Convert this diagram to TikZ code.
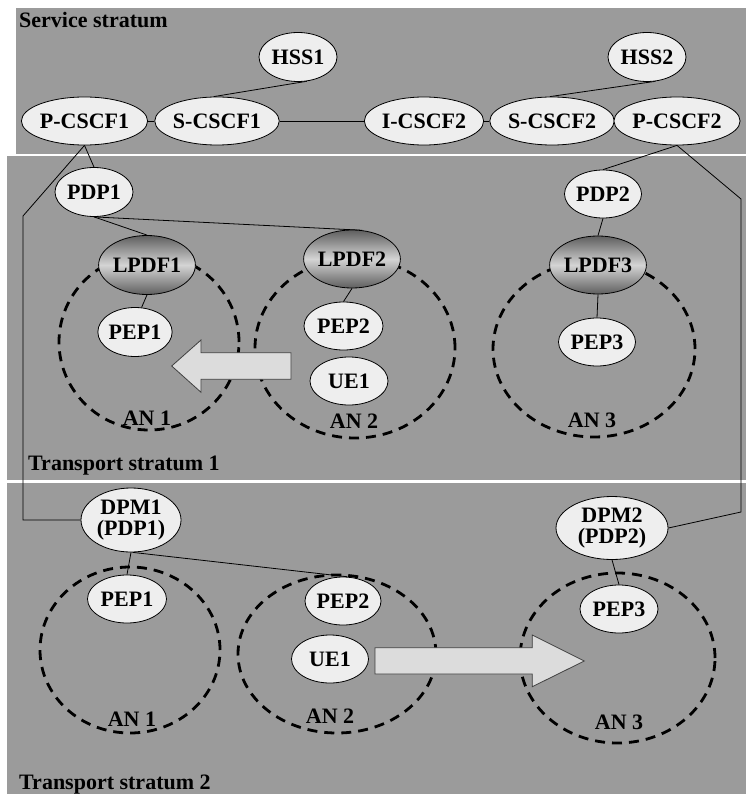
\documentclass[tikz,border=0pt]{standalone}
\usepackage{fontspec}
\setmainfont{Liberation Serif}
\usetikzlibrary{shapes.geometric}
\definecolor{bggray}{RGB}{155,155,155}
\definecolor{nodefill}{RGB}{238,238,238}
\definecolor{arrowfill}{RGB}{220,220,220}
\definecolor{lpdfdark}{RGB}{95,95,95}
\definecolor{lpdflight}{RGB}{212,212,212}
\pgfdeclarelayer{bg}
\pgfdeclarelayer{mid}
\pgfsetlayers{bg,mid,main}
\tikzset{
  txt/.style={font=\fontsize{22}{18}\selectfont\bfseries},
  ent/.style={ellipse, draw=black, line width=0.8pt, fill=nodefill, inner sep=0pt, txt, align=center},
  lpdf/.style={ent, top color=lpdfdark, bottom color=lpdfdark, middle color=lpdflight},
  twoline/.style={font=\fontsize{22}{21.5}\selectfont\bfseries},
  link/.style={line width=0.8pt, draw=black},
  anbound/.style={ellipse, draw=black, line width=2.8pt, dash pattern=on 10pt off 7pt, inner sep=0pt},
  anlabel/.style={txt, inner sep=0pt},
  stratum/.style={txt, inner sep=0pt, anchor=base west},
  blockarrow/.style={fill=arrowfill, draw=black!75, line width=0.8pt},
  band/.style={fill=bggray, draw=none},
}
\begin{document}
\begin{tikzpicture}[x=1pt,y=-1pt]
\useasboundingbox (0,0) rectangle (746,794);
\begin{pgfonlayer}{bg}
  \fill[white] (0,0) rectangle (746,794);
  \path[band] (16,8) rectangle (746,154.5);
  \path[band] (7,156.5) rectangle (746,480);
  \path[band] (7,483) rectangle (746,794);
\end{pgfonlayer}

% stratum labels
\node[stratum] (lblss) at (19,28) {Service stratum};
\node[stratum] (lblt1) at (28,470) {Transport stratum 1};
\node[stratum] (lblt2) at (19,789) {Transport stratum 2};

% service stratum
\node[ent, minimum width=78pt, minimum height=49pt] (hss1) at (298,57) {HSS1};
\node[ent, minimum width=78pt, minimum height=49pt] (hss2) at (647,57) {HSS2};
\node[ent, minimum width=115pt, minimum height=48pt] (pcscf1) at (84.5,121) {P-CSCF1};
\node[ent, minimum width=115pt, minimum height=48pt] (scscf1) at (217,121) {S-CSCF1};
\node[ent, minimum width=104pt, minimum height=48pt] (icscf2) at (424,121) {I-CSCF2};
\node[ent, minimum width=108pt, minimum height=48pt] (scscf2) at (552,121) {S-CSCF2};
\node[ent, minimum width=102pt, minimum height=48pt] (pcscf2) at (677,121) {P-CSCF2};

% transport stratum 1
\node[ent, minimum width=78pt, minimum height=49pt] (pdp1) at (94,192) {PDP1};
\node[lpdf, minimum width=92pt, minimum height=59pt] (lpdf1) at (147,265) {LPDF1};
\node[ent, minimum width=68pt, minimum height=49pt] (pep1a) at (135,332) {PEP1};
\node[lpdf, minimum width=96pt, minimum height=58pt] (lpdf2) at (352,259) {LPDF2};
\node[ent, minimum width=79pt, minimum height=48pt] (pep2a) at (343.5,326) {PEP2};
\node[ent, minimum width=78pt, minimum height=48pt] (ue1a) at (349,381) {UE1};
\node[ent, minimum width=77pt, minimum height=48pt] (pdp2) at (603,194) {PDP2};
\node[lpdf, minimum width=95pt, minimum height=58pt] (lpdf3) at (598,265) {LPDF3};
\node[ent, minimum width=77pt, minimum height=48pt] (pep3a) at (597,342) {PEP3};

% transport stratum 2
\node[ent, twoline, minimum width=100pt, minimum height=64pt] (dpm1) at (131,520) {DPM1\\(PDP1)};
\node[ent, minimum width=79pt, minimum height=48pt] (pep1b) at (127,599) {PEP1};
\node[ent, minimum width=76pt, minimum height=48pt] (pep2b) at (343,601) {PEP2};
\node[ent, minimum width=77pt, minimum height=48pt] (ue1b) at (330,659) {UE1};
\node[ent, twoline, minimum width=112pt, minimum height=63pt] (dpm2) at (612,528) {DPM2\\(PDP2)};
\node[ent, minimum width=78pt, minimum height=48pt] (pep3b) at (619,609) {PEP3};

% AN labels
\node[anlabel] (an1alab) at (147,418) {AN 1};
\node[anlabel] (an2alab) at (354,421) {AN 2};
\node[anlabel] (an3alab) at (592,420) {AN 3};
\node[anlabel] (an1blab) at (132,719) {AN 1};
\node[anlabel] (an2blab) at (330,716) {AN 2};
\node[anlabel] (an3blab) at (619,722) {AN 3};

\begin{pgfonlayer}{mid}
  % access network areas
  \node[anbound, minimum width=180pt, minimum height=176pt] (an1a) at (149,342) {};
  \node[anbound, minimum width=200pt, minimum height=180pt] (an2a) at (355,348) {};
  \node[anbound, minimum width=202pt, minimum height=176pt] (an3a) at (594,349) {};
  \node[anbound, minimum width=180pt, minimum height=166pt] (an1b) at (130,650) {};
  \node[anbound, minimum width=198pt, minimum height=158pt] (an2b) at (337,654) {};
  \node[anbound, minimum width=195pt, minimum height=170pt] (an3b) at (617.5,658) {};

  % connectors
  \coordinate (lcorner1) at (23,216);
  \coordinate (lcorner2) at (23,520);
  \coordinate (rcorner1) at (741,199);
  \coordinate (rcorner2) at (741,512);
  \draw[link] (hss1.-70) -- (scscf1.98);
  \draw[link] (hss2.-71) -- (scscf2.95);
  \draw[link] (pcscf1) -- (scscf1);
  \draw[link] (scscf1) -- (icscf2);
  \draw[link] (icscf2) -- (scscf2);
  \draw[link] (scscf2) -- (pcscf2);
  \draw[link] (pcscf1.south) -- (pdp1.north);
  \draw[link] (pcscf1.south) -- (lcorner1) -- (lcorner2) -- (dpm1.west);
  \draw[link] (pdp1.south) -- (lpdf1.north);
  \draw[link] (pdp1.south) -- (lpdf2.70);
  \draw[link] (lpdf1.south) -- (pep1a.75);
  \draw[link] (lpdf2.south) -- (pep2a.north);
  \draw[link] (pcscf2.south) -- (pdp2.north);
  \draw[link] (pcscf2.south) -- (rcorner1) -- (rcorner2) -- (dpm2.east);
  \draw[link] (pdp2.south) -- (lpdf3.north);
  \draw[link] (lpdf3.south) -- (pep3a.north);
  \draw[link] (dpm1.south) -- (pep1b.north);
  \draw[link] (dpm1.-87) -- (pep2b.80);
  \draw[link] (dpm2.south) -- (pep3b.north);

  % handover arrows
  \draw[blockarrow] (171.7,366) -- (201,340) -- (201,352.7) -- (291,352.7)
        -- (291,379.3) -- (201,379.3) -- (201,392.3) -- cycle;
  \draw[blockarrow] (375,647.7) -- (532.3,647.7) -- (532.3,635) -- (584.3,661)
        -- (532.3,686.7) -- (532.3,674) -- (375,674) -- cycle;
\end{pgfonlayer}
\end{tikzpicture}
\end{document}
